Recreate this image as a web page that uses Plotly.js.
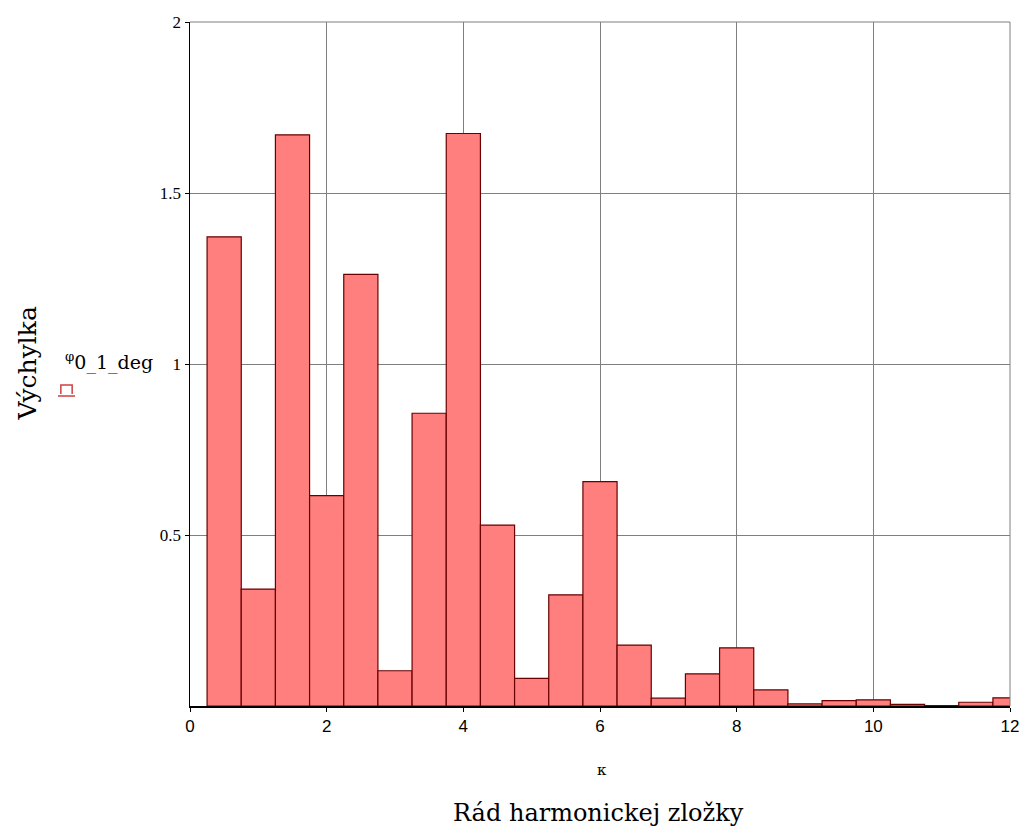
<!DOCTYPE html>
<html>
<head>
<meta charset="utf-8">
<script src="https://cdn.plot.ly/plotly-3.0.1.min.js"></script>
<style>
html,body{margin:0;padding:0;background:#fff;}
#chart{width:1028px;height:835px;}
</style>
</head>
<body>
<div id="chart"></div>
<script>
// Harmonic order (bin centres) and amplitude values
const harmonicOrder = [0.5, 1.0, 1.5, 2.0, 2.5, 3.0, 3.5, 4.0, 4.5, 5.0, 5.5, 6.0,
                       6.5, 7.0, 7.5, 8.0, 8.5, 9.0, 9.5, 10.0, 10.5, 11.0, 11.5, 12.0];
const deflection = [1.372, 0.342, 1.670, 0.615, 1.262, 0.103, 0.856, 1.674, 0.529, 0.081, 0.325, 0.656,
                    0.178, 0.023, 0.094, 0.170, 0.047, 0.006, 0.016, 0.018, 0.005, 0.001, 0.011, 0.024];
const xTickVals = [0, 2, 4, 6, 8, 10, 12];
const xTickText = ['0', '2', '4', '6', '8', '10', '12'];
const yTickVals = [0.5, 1, 1.5, 2];
const yTickText = ['0.5', '1', '1.5', '2'];
const seriesName = '<sup>φ</sup>0_1_deg';
const yTitle = 'Výchylka';
const xVarLabel = 'κ';
const xTitle = 'Rád harmonickej zložky';

const SERIF = '"Liberation Serif", serif';
const WIDE_SERIF = '"DejaVu Serif", serif';
const SANS = '"Liberation Sans", sans-serif';

const trace = {
  type: 'bar',
  x: harmonicOrder,
  y: deflection,
  width: 0.5,
  marker: {color: '#ff7f7f', line: {color: '#6a0000', width: 1.2}},
  showlegend: false,
  cliponaxis: true
};

const layout = {
  width: 1028, height: 835,
  margin: {l: 190, r: 18, t: 22, b: 129},
  paper_bgcolor: '#ffffff',
  plot_bgcolor: '#ffffff',
  bargap: 0,
  font: {family: SERIF, color: '#000'},
  xaxis: {
    range: [0, 12],
    tickvals: xTickVals, ticktext: xTickText,
    showgrid: true, gridcolor: '#7f7f7f', gridwidth: 1,
    showline: true, linecolor: '#000000', linewidth: 1.5,
    ticks: 'outside', ticklen: 4, tickcolor: '#000000',
    zeroline: false,
    tickfont: {family: SANS, size: 17, color: '#000'}
  },
  yaxis: {
    range: [0, 2],
    tickvals: yTickVals, ticktext: yTickText,
    showgrid: true, gridcolor: '#7f7f7f', gridwidth: 1,
    showline: true, linecolor: '#000000', linewidth: 1.5,
    ticks: 'outside', ticklen: 4, tickcolor: '#000000',
    ticklabelstandoff: 0,
    zeroline: false,
    tickfont: {family: SERIF, size: 17, color: '#000'}
  },
  shapes: [
    {type: 'line', xref: 'paper', yref: 'paper', x0: 0, x1: 1, y0: 1, y1: 1, line: {color: '#7f7f7f', width: 1}},
    {type: 'line', xref: 'paper', yref: 'paper', x0: 1, x1: 1, y0: 0, y1: 1, line: {color: '#7f7f7f', width: 1}},
    {type: 'path', xref: 'paper', yref: 'paper',
     path: 'M -0.1575,0.4562 L -0.1575,0.4693 L -0.1437,0.4693 L -0.1437,0.4562 M -0.161,0.4532 L -0.1402,0.4532',
     line: {color: '#d04040', width: 1.5}}
  ],
  annotations: [
    {text: yTitle, xref: 'paper', yref: 'paper', x: -0.1976, y: 0.502, textangle: -90,
     showarrow: false, xanchor: 'center', yanchor: 'middle',
     font: {family: WIDE_SERIF, size: 25, color: '#000'}},
    {text: seriesName, xref: 'paper', yref: 'paper', x: -0.155, y: 0.503,
     showarrow: false, xanchor: 'left', yanchor: 'middle',
     font: {family: WIDE_SERIF, size: 19, color: '#000'}},
    {text: xVarLabel, xref: 'paper', yref: 'paper', x: 0.503, y: -0.093,
     showarrow: false, xanchor: 'center', yanchor: 'middle',
     font: {family: WIDE_SERIF, size: 15, color: '#000'}},
    {text: xTitle, xref: 'paper', yref: 'paper', x: 0.4976, y: -0.156,
     showarrow: false, xanchor: 'center', yanchor: 'middle',
     font: {family: WIDE_SERIF, size: 24, color: '#000'}}
  ]
};

Plotly.newPlot('chart', [trace], layout, {displayModeBar: false, staticPlot: true});
</script>
</body>
</html>
